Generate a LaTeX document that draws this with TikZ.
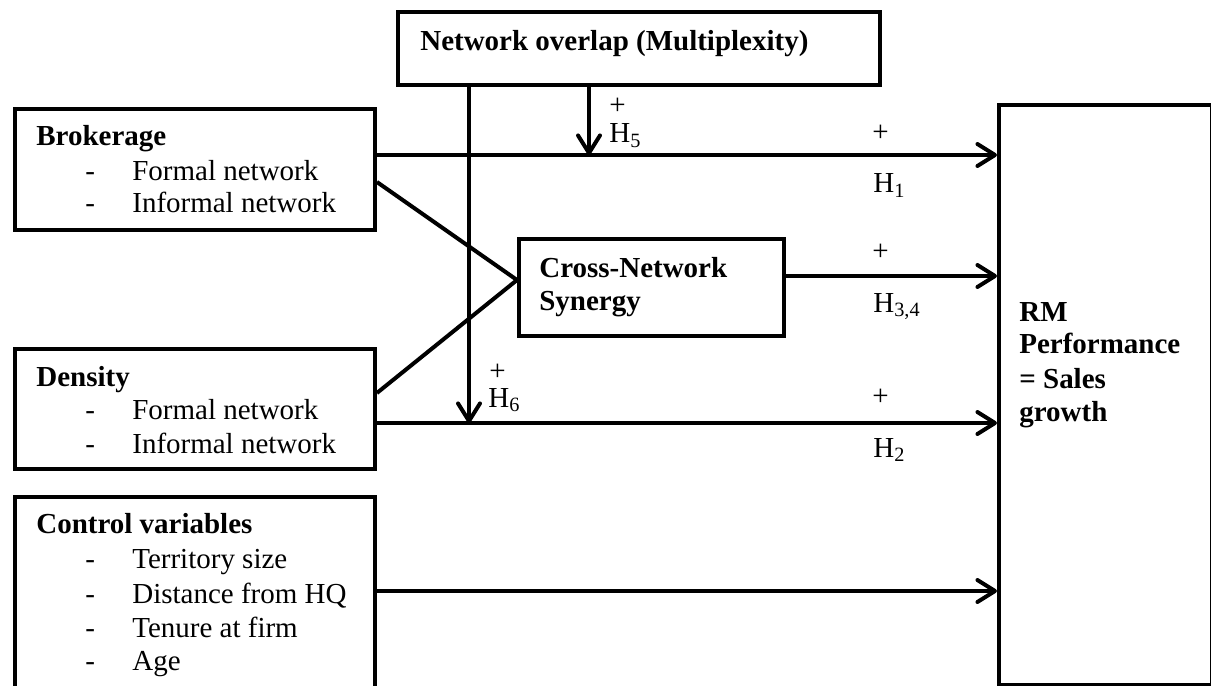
\documentclass[tikz,border=0pt]{standalone}
\usepackage{fontspec}
\setmainfont{Liberation Serif}
\usetikzlibrary{arrows.meta}
\begin{document}
\begin{tikzpicture}[x=0.02cm,y=-0.02cm,
  lw/.style={line width=2.27pt},
  box/.style={draw,lw,rectangle,inner sep=0pt,anchor=north west,line join=miter},
  conn/.style={lw},
  arr/.style={lw,-{Straight Barb[length=10pt,width=12.5pt,line cap=round,line join=round]}},
  txt/.style={font=\fontsize{16.5}{19}\selectfont,inner sep=0pt,anchor=base west},
  head/.style={txt,font=\fontsize{16.5}{19}\selectfont\bfseries},
]
\useasboundingbox (0,0) rectangle (1211,686);

% boxes
\node[box,minimum width=9.64cm,minimum height=1.46cm] (no)    at (396,10)  {};
\node[box,minimum width=7.2cm, minimum height=2.42cm] (brok)  at (13,107)  {};
\node[box,minimum width=7.2cm, minimum height=2.4cm]  (dens)  at (13,347)  {};
\node[box,minimum width=7.2cm, minimum height=4.3cm]  (ctrl)  at (13,495)  {};
\node[box,minimum width=5.3cm, minimum height=1.94cm] (cross) at (517,237) {};
\node[box,minimum width=4.26cm,minimum height=11.6cm] (rm)    at (997,103) {};

% box texts
\node[head] (tno) at (420,51) {Network overlap (Multiplexity)};

\node[head] (tbrok) at (36,146) {Brokerage};
\node[txt] (db1) at (85,180) {-};  \node[txt] (tb1) at (132,180) {Formal network};
\node[txt] (db2) at (85,213) {-};  \node[txt] (tb2) at (132,213) {Informal network};

\node[head] (tdens) at (36,386) {Density};
\node[txt] (dd1) at (85,419) {-};  \node[txt] (td1) at (132,419) {Formal network};
\node[txt] (dd2) at (85,453) {-};  \node[txt] (td2) at (132,453) {Informal network};

\node[head] (tctrl) at (36,533) {Control variables};
\node[txt] (dc1) at (85,568) {-};  \node[txt] (tc1) at (132,568) {Territory size};
\node[txt] (dc2) at (85,603) {-};  \node[txt] (tc2) at (132,603) {Distance from HQ};
\node[txt] (dc3) at (85,637) {-};  \node[txt] (tc3) at (132,637) {Tenure at firm};
\node[txt] (dc4) at (85,670) {-};  \node[txt] (tc4) at (132,670) {Age};

\node[head] (tcr1) at (539,277) {Cross-Network};
\node[head] (tcr2) at (539,310) {Synergy};

\node[head] (trm1) at (1019,321) {RM};
\node[head] (trm2) at (1019,353) {Performance};
\node[head] (trm3) at (1019,388) {= Sales};
\node[head] (trm4) at (1019,421) {growth};

% levels of the horizontal paths and columns of the vertical ones
\coordinate (yh1) at (0,155);
\coordinate (yh3) at (0,276);
\coordinate (yh2) at (0,423);
\coordinate (yct) at (0,591);
\coordinate (v1) at (469,0);
\coordinate (v2) at (589,0);
\coordinate (bout) at (0,182);
\coordinate (dout) at (0,393);
\coordinate (cin) at (0,280);

% main effects
\draw[arr] (brok.east |- yh1) -- (rm.west |- yh1);
\draw[arr] (cross.east |- yh3) -- (rm.west |- yh3);
\draw[arr] (dens.east |- yh2) -- (rm.west |- yh2);
\draw[arr] (ctrl.east |- yct) -- (rm.west |- yct);

% paths into the synergy box
\draw[conn,line join=miter] (brok.east |- bout) -- (cross.west |- cin) -- (dens.east |- dout);

% moderation by network overlap
\draw[arr] (no.south -| v1) -- (v1 |- yh2);
\draw[arr] (no.south -| v2) -- (v2 |- yh1);

% hypothesis labels
\node[txt] (p5) at (609,114) {+};
\node[txt] (h5) at (609,143) {H\textsubscript{5}};
\node[txt] (p1) at (872,142) {+};
\node[txt] (h1) at (873,193) {H\textsubscript{1}};
\node[txt] (p3) at (872,260) {+};
\node[txt] (h3) at (873,312) {H\textsubscript{3,4}};
\node[txt] (p6) at (489,380) {+};
\node[txt] (h6) at (488,407) {H\textsubscript{6}};
\node[txt] (p2) at (872,405) {+};
\node[txt] (h2) at (873,457) {H\textsubscript{2}};
\end{tikzpicture}
\end{document}
